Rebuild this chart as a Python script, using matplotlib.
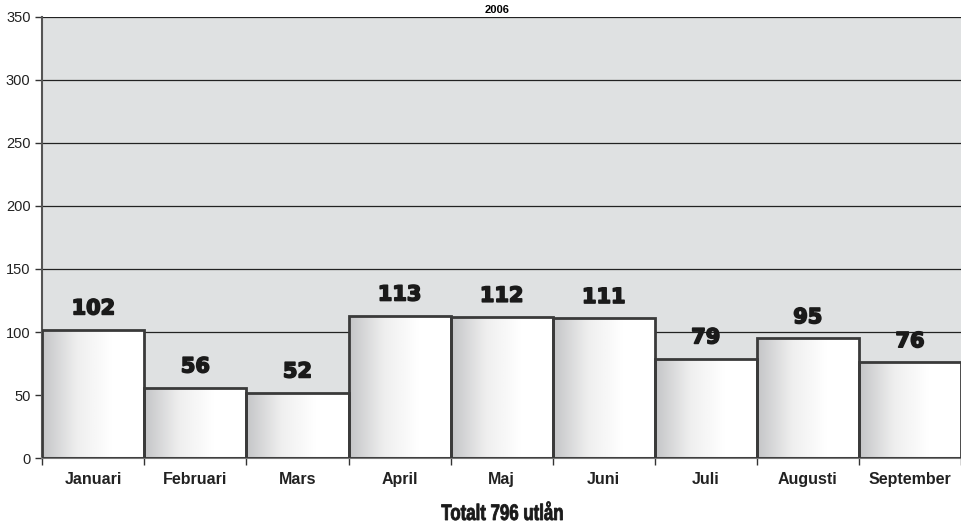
import numpy as np
import matplotlib.pyplot as plt
import matplotlib.patheffects as pe
from matplotlib.colors import LinearSegmentedColormap
from matplotlib.textpath import TextPath
from matplotlib.font_manager import FontProperties
from matplotlib.patches import PathPatch
from matplotlib.transforms import Affine2D, IdentityTransform

months = ["Januari", "Februari", "Mars", "April", "Maj", "Juni", "Juli", "Augusti", "September"]
loans = [102, 56, 52, 113, 112, 111, 79, 95, 76]
year = "2006"
total_label = "Totalt 796 utlån"

plt.rcParams["font.family"] = ["Liberation Sans", "DejaVu Sans"]

fig = plt.figure(figsize=(9.62, 5.23), dpi=100)
ax = fig.add_axes([0.044, 0.124, 0.955, 0.844])
ax.set_facecolor("#dfe1e2")

x = np.arange(len(months))
ax.set_xlim(-0.5, len(months) - 0.5)
ax.set_ylim(0, 350)

for v in range(50, 351, 50):
    ax.axhline(v, color="#222222", lw=0.9, zorder=1)

grad = np.linspace(0, 1, 256).reshape(1, -1)
cmap = LinearSegmentedColormap.from_list("g", ["#c4c5c7", "#eeeeee", "#ffffff", "#ffffff"])
heavy = [pe.withStroke(linewidth=1.2, foreground="#1a1a1a")]
for xi, v in zip(x, loans):
    bars = ax.bar(xi, v, width=1.0, facecolor="none", edgecolor="#3a3a3a", lw=2.0, zorder=3)
    im = ax.imshow(grad, cmap=cmap, aspect="auto", extent=(xi - 0.5, xi + 0.5, 0, v),
                   zorder=2, interpolation="bicubic")
    im.set_clip_path(bars[0])
    ax.text(xi, v + 12, str(v), ha="center", va="baseline", fontsize=15,
            fontweight="bold", family="DejaVu Sans", color="#1a1a1a", zorder=4,
            path_effects=heavy)

ax.set_xticks(x)
ax.set_xticklabels(months, fontsize=11.5, fontweight="bold", color="#222222")
ax.set_xticks(np.arange(-0.5, len(months)), minor=True)
ax.tick_params(axis="x", which="major", length=0, pad=10)
ax.tick_params(axis="x", which="minor", length=5, width=1, color="#333333")
ax.set_yticks(range(0, 351, 50))
ax.tick_params(axis="y", labelsize=10.5, length=5, width=1, color="#333333", labelcolor="#222222")

for s in ["top", "right"]:
    ax.spines[s].set_visible(False)
ax.spines["left"].set_color("#555555")
ax.spines["left"].set_linewidth(1.5)
ax.spines["bottom"].set_color("#777777")
ax.spines["bottom"].set_linewidth(1.5)

fig.text(0.517, 0.99, year, ha="center", va="top", fontsize=8, fontweight="bold")

# condensed bold caption, squeezed horizontally since no narrow font is installed
tp = TextPath((0, 0), total_label, size=1, prop=FontProperties(family="Liberation Sans", weight="bold"))
ext = tp.get_extents()
sx = 121 / ext.width
sy = 18.5 / ext.y1
cx, base = 502, 3
tr = Affine2D().translate(-ext.x0 - ext.width / 2, 0).scale(sx, sy).translate(cx, base)
fig.add_artist(PathPatch(tr.transform_path(tp), transform=IdentityTransform(),
                         facecolor="#1a1a1a", edgecolor="#1a1a1a", lw=0.6))

fig.savefig("out.png", dpi=100)
